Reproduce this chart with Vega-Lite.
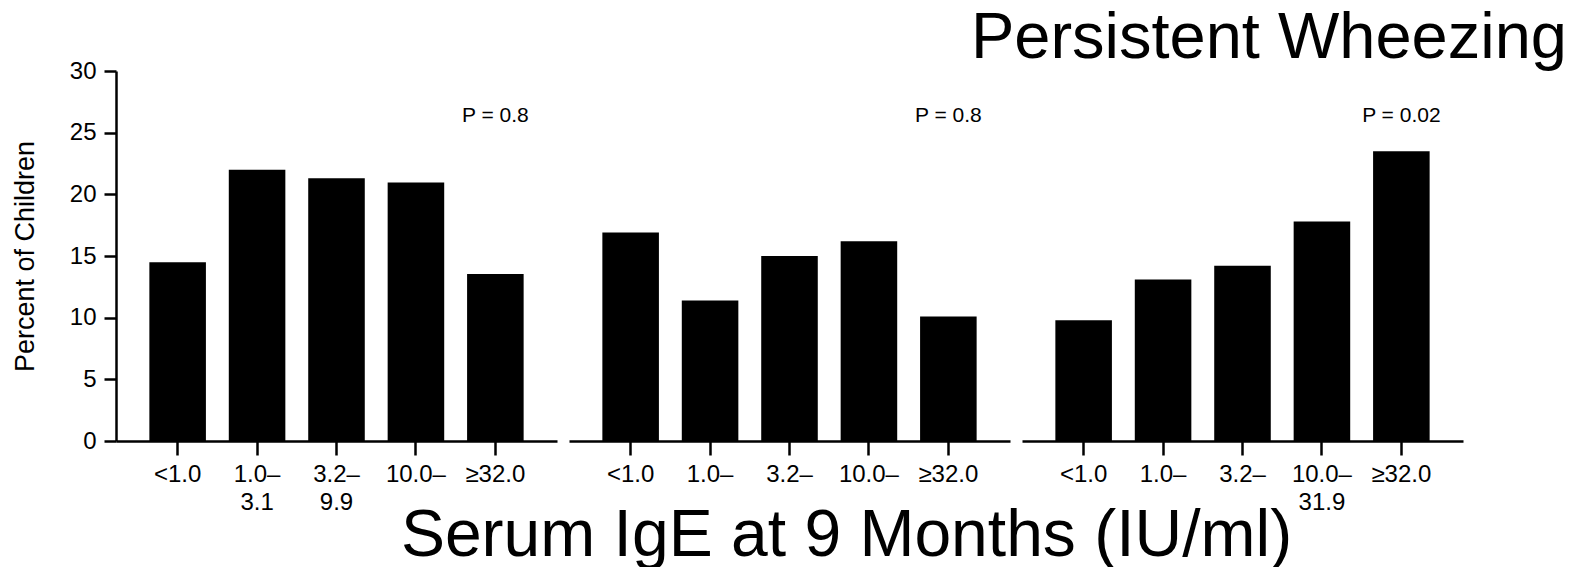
{
  "$schema": "https://vega.github.io/schema/vega-lite/v6.json",
  "background": "white",
  "padding": {"left": 11, "top": 6, "right": 5, "bottom": 5},
  "bounds": "flush",
  "spacing": 12,
  "config": {
    "font": "Liberation Sans",
    "view": {"stroke": null},
    "axis": {
      "labelColor": "black",
      "labelFont": "Liberation Sans",
      "titleFont": "Liberation Sans",
      "titleColor": "black",
      "titleFontWeight": "normal",
      "domainColor": "black",
      "tickColor": "black",
      "domainWidth": 2.5,
      "tickWidth": 2.5,
      "grid": false
    }
  },
  "title": {
    "text": "Persistent Wheezing",
    "fontSize": 65,
    "font": "Liberation Sans",
    "fontWeight": "normal",
    "color": "black",
    "anchor": "end",
    "dx": 104,
    "offset": -13
  },
  "data": {
    "values": [
      {"panel": "A", "ige": "<1.0", "pct": 14.5, "p": "P = 0.8"},
      {"panel": "A", "ige": "1.0–3.1", "pct": 22.0, "p": "P = 0.8"},
      {"panel": "A", "ige": "3.2–9.9", "pct": 21.3, "p": "P = 0.8"},
      {"panel": "A", "ige": "10.0–31.9", "pct": 20.95, "p": "P = 0.8"},
      {"panel": "A", "ige": "≥32.0", "pct": 13.55, "p": "P = 0.8"},
      {"panel": "B", "ige": "<1.0", "pct": 16.9, "p": "P = 0.8"},
      {"panel": "B", "ige": "1.0–3.1", "pct": 11.4, "p": "P = 0.8"},
      {"panel": "B", "ige": "3.2–9.9", "pct": 15.0, "p": "P = 0.8"},
      {"panel": "B", "ige": "10.0–31.9", "pct": 16.2, "p": "P = 0.8"},
      {"panel": "B", "ige": "≥32.0", "pct": 10.1, "p": "P = 0.8"},
      {"panel": "C", "ige": "<1.0", "pct": 9.8, "p": "P = 0.02"},
      {"panel": "C", "ige": "1.0–3.1", "pct": 13.1, "p": "P = 0.02"},
      {"panel": "C", "ige": "3.2–9.9", "pct": 14.2, "p": "P = 0.02"},
      {"panel": "C", "ige": "10.0–31.9", "pct": 17.8, "p": "P = 0.02"},
      {"panel": "C", "ige": "≥32.0", "pct": 23.5, "p": "P = 0.02"}
    ]
  },
  "hconcat": [
    {
      "width": 441,
      "height": 370,
      "transform": [{"filter": "datum.panel == 'A'"}],
      "layer": [
        {
          "mark": {"type": "bar", "color": "black"},
          "encoding": {
            "x": {
              "field": "ige", "type": "nominal",
              "sort": ["<1.0", "1.0–3.1", "3.2–9.9", "10.0–31.9", "≥32.0"],
              "scale": {"paddingInner": 0.288, "paddingOuter": 0.42},
              "axis": {
                "title": null, "labelAngle": 0, "labelFontSize": 24, "labelPadding": 7,
                "labelLineHeight": 28, "tickSize": 14,
                "labelExpr": "datum.label == '1.0–3.1' ? ['1.0–', '3.1'] : datum.label == '3.2–9.9' ? ['3.2–', '9.9'] : datum.label == '10.0–31.9' ? '10.0–' : datum.label"
              }
            },
            "y": {
              "field": "pct", "type": "quantitative",
              "scale": {"domain": [0, 30]},
              "axis": {
                "title": "Percent of Children", "titleFontSize": 27, "titlePadding": 30,
                "values": [0, 5, 10, 15, 20, 25, 30], "labelFontSize": 24,
                "labelPadding": 8, "tickSize": 12
              }
            }
          }
        },
        {
          "transform": [{"filter": "datum.ige == '≥32.0'"}],
          "mark": {"type": "text", "fontSize": 21, "baseline": "alphabetic", "color": "black"},
          "encoding": {
            "x": {"field": "ige", "type": "nominal", "sort": ["<1.0", "1.0–3.1", "3.2–9.9", "10.0–31.9", "≥32.0"]},
            "y": {"datum": 25.9},
            "text": {"field": "p"}
          }
        }
      ]
    },
    {
      "width": 441,
      "height": 370,
      "transform": [{"filter": "datum.panel == 'B'"}],
      "layer": [
        {
          "mark": {"type": "bar", "color": "black"},
          "encoding": {
            "x": {
              "field": "ige", "type": "nominal",
              "sort": ["<1.0", "1.0–3.1", "3.2–9.9", "10.0–31.9", "≥32.0"],
              "scale": {"paddingInner": 0.288, "paddingOuter": 0.42},
              "axis": {
                "title": "Serum IgE at 9 Months (IU/ml)", "titleFontSize": 66,
                "titleX": 277, "titleY": 114, "titleBaseline": "alphabetic", "titleAlign": "center",
                "labelAngle": 0, "labelFontSize": 24, "labelPadding": 7,
                "labelLineHeight": 28, "tickSize": 14,
                "labelExpr": "indexof(datum.label, '–') > 0 ? slice(datum.label, 0, indexof(datum.label, '–') + 1) : datum.label"
              }
            },
            "y": {
              "field": "pct", "type": "quantitative",
              "scale": {"domain": [0, 30]},
              "axis": null
            }
          }
        },
        {
          "transform": [{"filter": "datum.ige == '≥32.0'"}],
          "mark": {"type": "text", "fontSize": 21, "baseline": "alphabetic", "color": "black"},
          "encoding": {
            "x": {"field": "ige", "type": "nominal", "sort": ["<1.0", "1.0–3.1", "3.2–9.9", "10.0–31.9", "≥32.0"]},
            "y": {"datum": 25.9},
            "text": {"field": "p"}
          }
        }
      ]
    },
    {
      "width": 441,
      "height": 370,
      "transform": [{"filter": "datum.panel == 'C'"}],
      "layer": [
        {
          "mark": {"type": "bar", "color": "black"},
          "encoding": {
            "x": {
              "field": "ige", "type": "nominal",
              "sort": ["<1.0", "1.0–3.1", "3.2–9.9", "10.0–31.9", "≥32.0"],
              "scale": {"paddingInner": 0.288, "paddingOuter": 0.42},
              "axis": {
                "title": null, "labelAngle": 0, "labelFontSize": 24, "labelPadding": 7,
                "labelLineHeight": 28, "tickSize": 14,
                "labelExpr": "datum.label == '10.0–31.9' ? ['10.0–', '31.9'] : indexof(datum.label, '–') > 0 ? slice(datum.label, 0, indexof(datum.label, '–') + 1) : datum.label"
              }
            },
            "y": {
              "field": "pct", "type": "quantitative",
              "scale": {"domain": [0, 30]},
              "axis": null
            }
          }
        },
        {
          "transform": [{"filter": "datum.ige == '≥32.0'"}],
          "mark": {"type": "text", "fontSize": 21, "baseline": "alphabetic", "color": "black"},
          "encoding": {
            "x": {"field": "ige", "type": "nominal", "sort": ["<1.0", "1.0–3.1", "3.2–9.9", "10.0–31.9", "≥32.0"]},
            "y": {"datum": 25.9},
            "text": {"field": "p"}
          }
        }
      ]
    }
  ]
}
